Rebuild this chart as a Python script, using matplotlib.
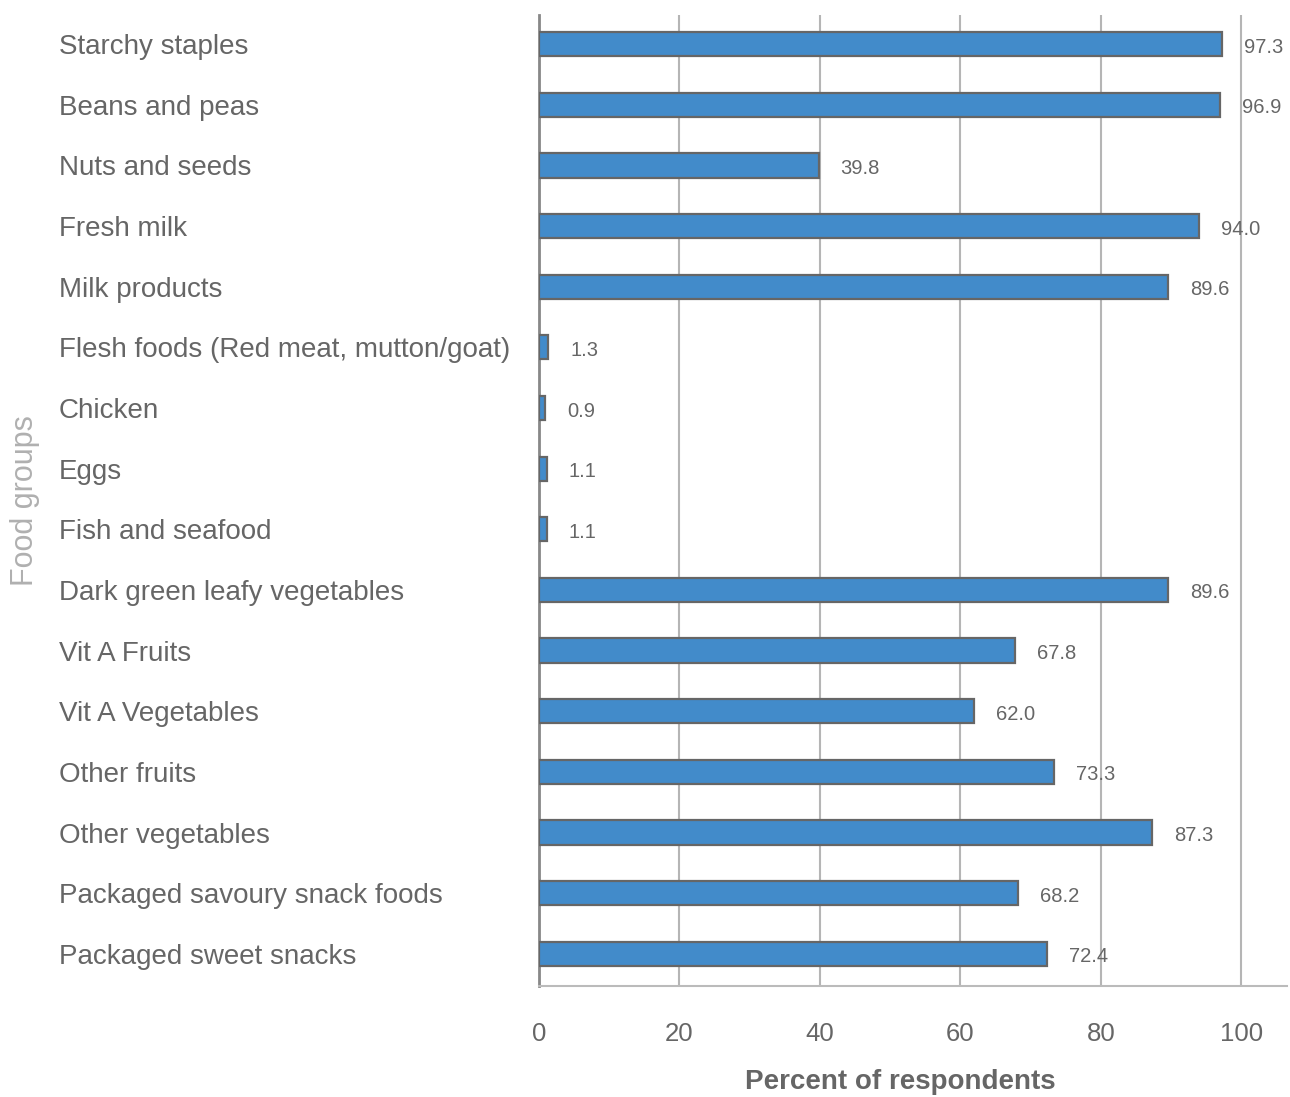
import matplotlib.pyplot as plt

plt.rcParams['font.family'] = ['Liberation Sans', 'DejaVu Sans']

groups = ['Starchy staples', 'Beans and peas', 'Nuts and seeds', 'Fresh milk',
          'Milk products', 'Flesh foods (Red meat, mutton/goat)', 'Chicken', 'Eggs',
          'Fish and seafood', 'Dark green leafy vegetables', 'Vit A Fruits',
          'Vit A Vegetables', 'Other fruits', 'Other vegetables',
          'Packaged savoury snack foods', 'Packaged sweet snacks']
percent = [97.3, 96.9, 39.8, 94.0, 89.6, 1.3, 0.9, 1.1, 1.1, 89.6,
           67.8, 62.0, 73.3, 87.3, 68.2, 72.4]
xticks = [0, 20, 40, 60, 80, 100]

fig = plt.figure(figsize=(12.9, 10.97), dpi=100)
ax = fig.add_axes([539 / 1290, 1 - 986 / 1097, (1287 - 539) / 1290, (986 - 15) / 1097])

pos = list(range(len(groups)))
ax.barh(pos, percent, height=0.4, color='#428bca', edgecolor='#666666', linewidth=1.6, zorder=3)

for y, v in zip(pos, percent):
    ax.annotate(f'{v:.1f}', (v, y), xytext=(22, -3), textcoords='offset pixels',
                ha='left', va='center', fontsize=14.5, color='#666666', zorder=4)

ax.set_xlim(0, 106.5)
ax.set_ylim(15.53, -0.48)
ax.set_xticks(xticks)
ax.set_xticklabels([str(t) for t in xticks])
ax.set_yticks(pos)
ax.set_yticklabels(groups, ha='left')
ax.tick_params(axis='y', length=0, pad=345.6, labelsize=20, labelcolor='#666666')
ax.tick_params(axis='x', length=0, pad=26, labelsize=18.5, labelcolor='#666666')
for lbl in ax.get_yticklabels():
    lbl.set_va('center_baseline')

ax.grid(axis='x', color='#b5b5b5', linewidth=1.5, zorder=0)
for s in ['top', 'right']:
    ax.spines[s].set_visible(False)
ax.spines['left'].set_color('#888888')
ax.spines['left'].set_linewidth(2)
ax.spines['bottom'].set_color('#bbbbbb')
ax.spines['bottom'].set_linewidth(1.5)

ax.set_xlabel('Percent of respondents', fontsize=20, fontweight='bold', color='#666666')
ax.xaxis.set_label_coords((900 - 539) / (1287 - 539), -(1082 - 986) / (986 - 15))
ax.xaxis.label.set_va('center')
ax.set_ylabel('Food groups', fontsize=22, color='#b0b0b0')
ax.yaxis.set_label_coords((25 - 539) / (1287 - 539), 0.5)
ax.yaxis.label.set_va('center')

fig.savefig('out.png', dpi=100)
